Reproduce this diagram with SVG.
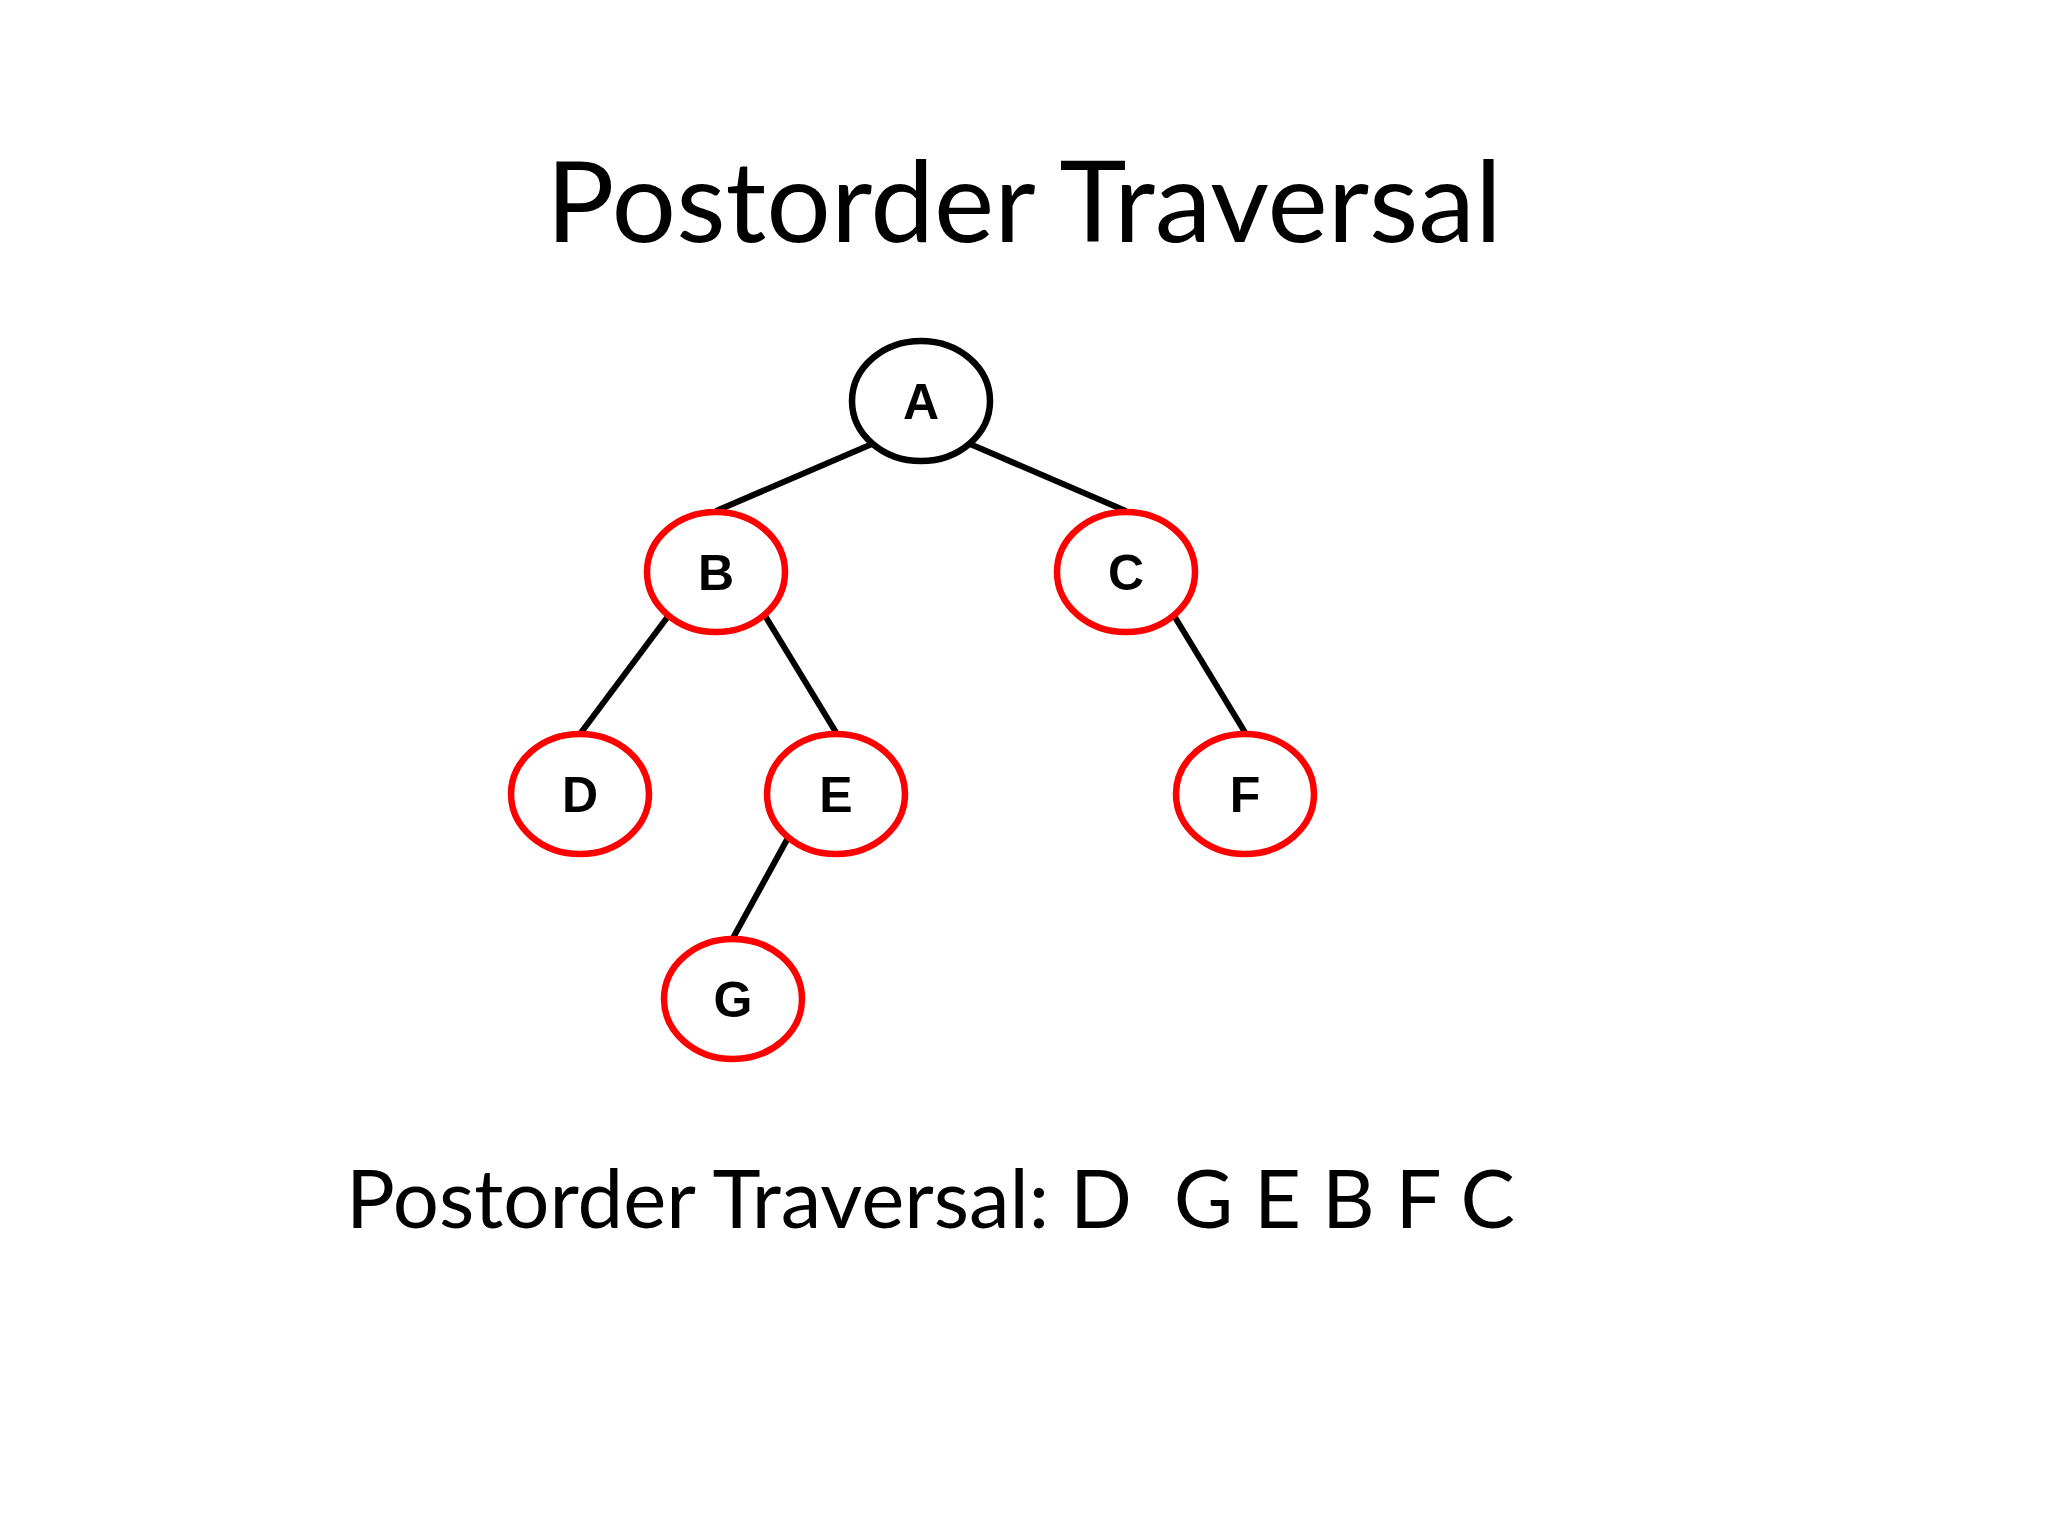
<svg xmlns="http://www.w3.org/2000/svg" width="2048" height="1536" viewBox="0 0 2048 1536">
<style>
.t{font-family:Lato,"Liberation Sans",sans-serif;fill:#000}
.n{fill:#fff;stroke-width:6.5}
.red{stroke:#f00}
.blk{stroke:#000}
.l{font-family:"Liberation Sans",Arial,sans-serif;font-weight:bold;font-size:50px;text-anchor:middle;fill:#000}
.e{stroke:#000;stroke-width:6}
</style>
<rect width="2048" height="1536" fill="#fff"/>
<text class="t" x="1024" y="242" font-size="112" text-anchor="middle" textLength="956" lengthAdjust="spacingAndGlyphs">Postorder Traversal</text>
<g id="connectors">
<line class="e" x1="872" y1="444" x2="716" y2="511"/>
<line class="e" x1="970" y1="444" x2="1126" y2="511"/>
<line class="e" x1="669" y1="615" x2="580" y2="734"/>
<line class="e" x1="764" y1="614" x2="837" y2="734"/>
<line class="e" x1="1173" y1="614" x2="1246" y2="734"/>
<line class="e" x1="789" y1="836" x2="733" y2="938"/>
</g>
<g id="A"><ellipse class="n blk" cx="921" cy="401" rx="69" ry="60"/><text class="l" x="921" y="419">A</text></g>
<g id="B"><ellipse class="n red" cx="716" cy="572" rx="69" ry="60"/><text class="l" x="716" y="590">B</text></g>
<g id="C"><ellipse class="n red" cx="1126" cy="572" rx="69" ry="60"/><text class="l" x="1126" y="590">C</text></g>
<g id="D"><ellipse class="n red" cx="580" cy="794" rx="69" ry="60"/><text class="l" x="580" y="812">D</text></g>
<g id="E"><ellipse class="n red" cx="836" cy="794" rx="69" ry="60"/><text class="l" x="836" y="812">E</text></g>
<g id="F"><ellipse class="n red" cx="1245" cy="794" rx="69" ry="60"/><text class="l" x="1245" y="812">F</text></g>
<g id="G"><ellipse class="n red" cx="733" cy="999" rx="69" ry="60"/><text class="l" x="733" y="1017">G</text></g>
<text class="t" x="346" y="1228" font-size="82" textLength="1169" lengthAdjust="spacingAndGlyphs" xml:space="preserve">Postorder Traversal: D  G E B F C</text>
</svg>
